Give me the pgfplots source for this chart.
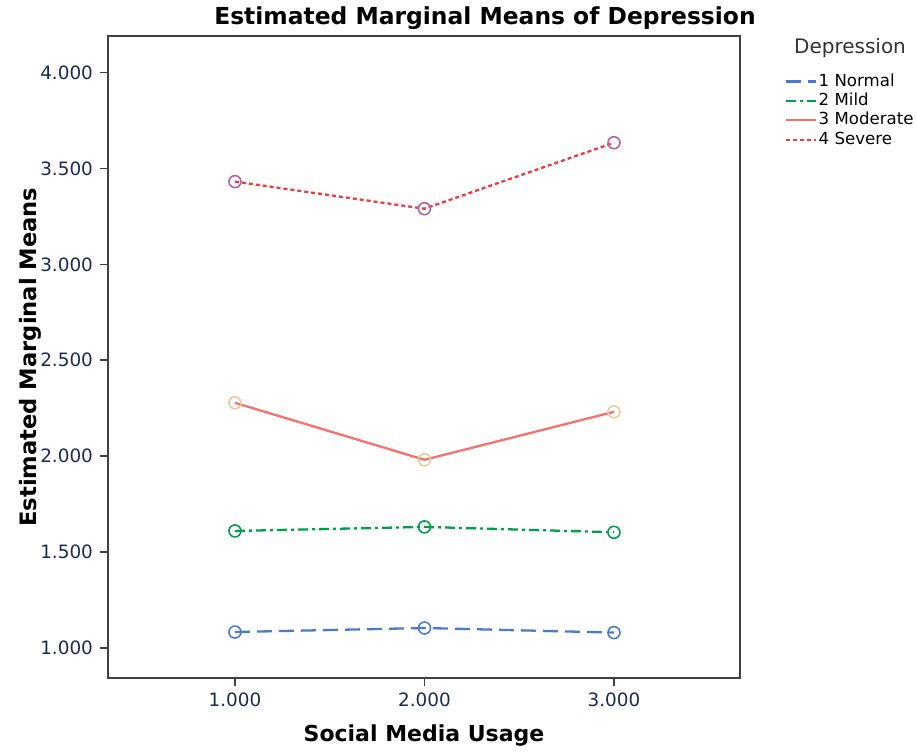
\documentclass[border=0pt]{standalone}
\usepackage{pgfplots}
\pgfplotsset{compat=1.18}
\usepackage{fontspec}
\setmainfont{DejaVu Sans}
\definecolor{cNormal}{HTML}{4A7BCF}
\definecolor{cMild}{HTML}{00A04A}
\definecolor{cMod}{HTML}{F8706A}
\definecolor{cModMark}{HTML}{E6CBA2}
\definecolor{cSev}{HTML}{F03A3A}
\definecolor{cSevMark}{HTML}{B462A8}
\definecolor{tickcol}{HTML}{1C2A52}
\begin{document}
\begin{tikzpicture}
\path (-54pt,-36pt) (404.5pt,339pt);
\begin{axis}[
    at={(0,0)}, anchor=south west,
    scale only axis, width=316pt, height=321pt,
    xmin=0.33, xmax=3.665, ymin=0.843, ymax=4.19,
    xtick={1,2,3}, ytick={1,1.5,...,4},
    xtick pos=bottom, ytick pos=left, tick align=outside,
    major tick length=4pt,
    axis line style={draw=black!75, line width=0.8pt},
    tick style={draw=black!75, line width=0.8pt},
    /pgf/number format/.cd, fixed, fixed zerofill, precision=3, assume math mode=true,
    /pgfplots/.cd,
    ticklabel style={font=\fontsize{9.2}{11}\selectfont, text=tickcol},
    xlabel={\textbf{Social Media Usage}},
    ylabel={\textbf{Estimated Marginal Means}},
    xlabel style={font=\fontsize{11}{13}\selectfont, at={(axis description cs:0.5,-0.089)}, anchor=center},
    ylabel style={font=\fontsize{11.3}{13}\selectfont, at={(axis description cs:-0.1234,0.5)}, anchor=center},
    legend style={at={(axis description cs:1.07,0.945)}, anchor=north west,
        draw=none, fill=none, font=\fontsize{8.3}{9.75}\selectfont, row sep=0pt,
        inner sep=0pt, nodes={inner sep=0.9pt, text height=6.3pt, text depth=1.6pt}},
    legend cell align=left,
    legend image code/.code={\draw[#1] (0pt,0pt) -- (15pt,0pt);},
    every axis plot/.append style={line width=1.15pt},
]
\addplot[cNormal, dash pattern=on 7.5pt off 3.5pt, mark=o, mark size=3pt,
    mark options={solid, line width=0.8pt}]
    coordinates {(1,1.083) (2,1.104) (3,1.080)};
\addlegendentry{1 Normal}
\addplot[cMild, dash pattern=on 5pt off 2pt on 1.5pt off 2pt, mark=o, mark size=3pt,
    mark options={solid, line width=0.8pt}]
    coordinates {(1,1.610) (2,1.631) (3,1.603)};
\addlegendentry{2 Mild}
\addplot[cMod, mark=o, mark size=3pt,
    mark options={solid, draw=cModMark, line width=0.8pt}]
    coordinates {(1,2.278) (2,1.981) (3,2.231)};
\addlegendentry{3 Moderate}
\addplot[cSev, dash pattern=on 2pt off 1.5pt, mark=o, mark size=3pt,
    mark options={solid, draw=cSevMark, line width=0.8pt}]
    coordinates {(1,3.431) (2,3.290) (3,3.634)};
\addlegendentry{4 Severe}
\end{axis}
\node[font=\fontsize{11.7}{13}\selectfont\bfseries] at (188.5pt,330pt) {Estimated Marginal Means of Depression};
\node[font=\fontsize{10}{12}\selectfont, text=black!80] at (371pt,315pt) {Depression};
\end{tikzpicture}
\end{document}
